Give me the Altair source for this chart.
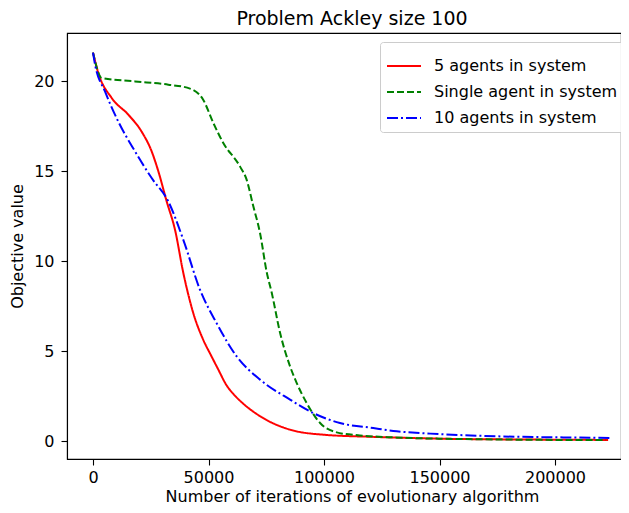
import altair as alt
import pandas as pd

series_names = ["5 agents in system", "Single agent in system", "10 agents in system"]
colors = ["red", "green", "blue"]
dashes = [[1, 0], [7, 3], [11, 3, 2, 3]]

x_five = [0, 2300, 8100, 15300, 21000, 25400, 28300, 31900, 35500, 39100, 43400, 47700,
          51000, 54000, 57900, 61000, 65000, 72300, 85300, 99700, 121300, 150000, 190000, 223000]
y_five = [21.6, 20.47, 19.08, 18.15, 17.22, 16.11, 15.0, 13.33, 11.76, 9.36, 7.13, 5.65,
          4.8, 4.05, 3.1, 2.6, 2.1, 1.4, 0.65, 0.37, 0.25, 0.15, 0.1, 0.08]

x_single = [0, 3800, 18200, 32600, 42000, 47700, 52100, 56400, 63600, 66500, 69400, 72300,
            75200, 77400, 81000, 85300, 88200, 92500, 98300, 105500, 115500, 130000,
            150000, 180000, 222000]
y_single = [21.6, 20.19, 20.0, 19.82, 19.6, 18.98, 17.69, 16.58, 15.28, 14.54, 13.06, 11.58,
            9.4, 8.24, 6.02, 4.17, 3.24, 2.13, 1.02, 0.5, 0.33, 0.22,
            0.15, 0.1, 0.07]

x_ten = [0, 900, 5200, 10900, 18200, 25400, 32600, 39100, 46300, 53500, 62200, 72300,
         85300, 95400, 106900, 121300, 131500, 146000, 175000, 203600, 224500]
y_ten = [21.6, 20.93, 19.44, 17.78, 16.11, 14.63, 13.33, 11.2, 8.43, 6.57, 4.72, 3.43,
         2.32, 1.57, 1.02, 0.74, 0.56, 0.43, 0.28, 0.22, 0.19]

x_ticks = [0, 50000, 100000, 150000, 200000]
y_ticks = [0, 5, 10, 15, 20]

rows = []
for name, xs, ys in zip(series_names, [x_five, x_single, x_ten], [y_five, y_single, y_ten]):
    for i, (xv, yv) in enumerate(zip(xs, ys)):
        rows.append({"series": name, "x": xv, "y": yv, "order": i})
df = pd.DataFrame(rows)

FONT = "DejaVu Sans"
FS = 16

chart = alt.Chart(df).mark_line(strokeWidth=2, interpolate="monotone", clip=True).encode(
    x=alt.X("x:Q",
            scale=alt.Scale(domain=[-11255, 228570], nice=False, zero=False),
            axis=alt.Axis(values=x_ticks, format="d",
                          title="Number of iterations of evolutionary algorithm",
                          titleX=285)),
    y=alt.Y("y:Q",
            scale=alt.Scale(domain=[-0.98, 22.69], nice=False, zero=False),
            axis=alt.Axis(values=y_ticks, format="d", title="Objective value")),
    color=alt.Color("series:N",
                    scale=alt.Scale(domain=series_names, range=colors),
                    sort=series_names, title=None),
    strokeDash=alt.StrokeDash("series:N",
                              scale=alt.Scale(domain=series_names, range=dashes),
                              sort=series_names, title=None),
    order="order:Q",
).properties(
    width=554,
    height=426,
    title=alt.TitleParams("Problem Ackley size 100", fontSize=19, font=FONT,
                          fontWeight="normal", color="black", anchor="middle",
                          dx=8, offset=4),
    autosize=alt.AutoSizeParams(type="none"),
    padding={"left": 59, "top": 25, "right": 0, "bottom": 46},
).configure_view(
    stroke="black", strokeWidth=1.1
).configure_axis(
    grid=False,
    domainColor="black", domainWidth=1.1,
    tickColor="black", tickWidth=1.1, tickSize=6,
    labelFont=FONT, labelFontSize=FS, labelColor="black",
    titleFont=FONT, titleFontSize=FS, titleColor="black", titleFontWeight="normal",
).configure_axisX(
    labelPadding=4, titlePadding=3
).configure_axisY(
    labelPadding=7, titlePadding=8
).configure_legend(
    orient="none", legendX=313, legendY=9,
    fillColor="rgba(255,255,255,0.8)", strokeColor="#cccccc", cornerRadius=3,
    padding=6, symbolType="stroke", symbolSize=1156, symbolStrokeWidth=2,
    labelFont=FONT, labelFontSize=FS, labelColor="black", labelOffset=12,
    labelLimit=400, rowPadding=-10,
)

chart.save("out.html", embed_options={"renderer": "svg", "actions": False})
